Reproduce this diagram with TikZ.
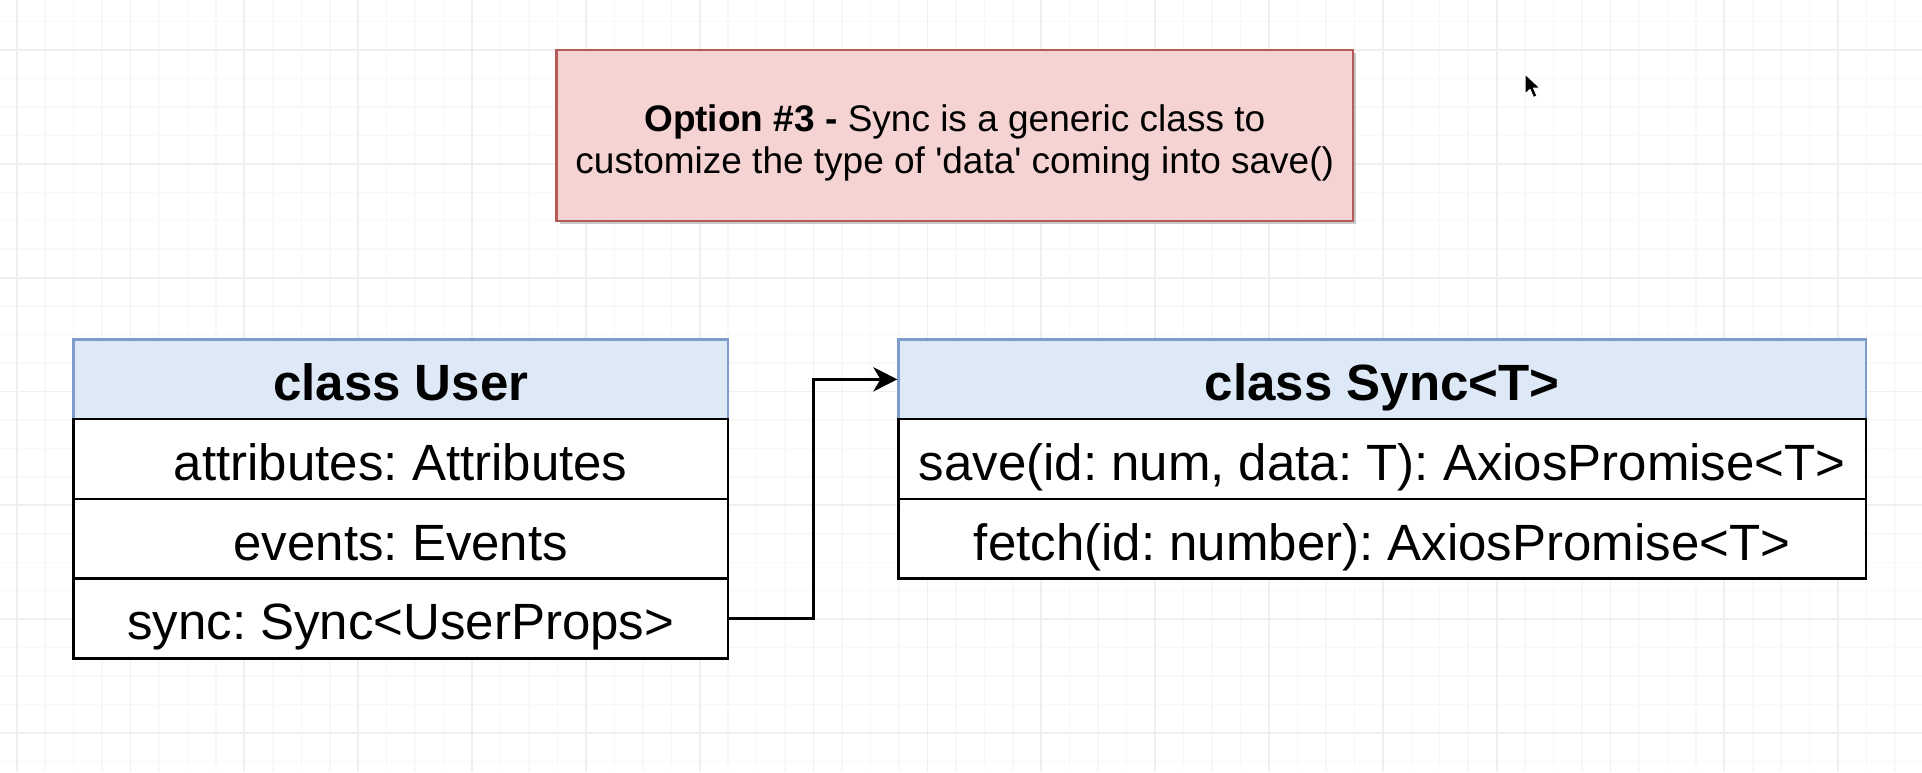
\documentclass[tikz,border=0pt]{standalone}
\usepackage{fontspec}
\setmainfont{Liberation Sans}
\frenchspacing
\usetikzlibrary{arrows.meta}
\definecolor{gridminor}{HTML}{F8F8F8}
\definecolor{gridmajor}{HTML}{EFEFEF}
\definecolor{notefill}{HTML}{F4D3D2}
\definecolor{notedraw}{HTML}{B45A58}
\definecolor{headfill}{HTML}{DEE9F8}
\definecolor{headdraw}{HTML}{7D9BCB}
\tikzset{
  minorline/.style={draw=gridminor, line width=1.5pt},
  majorline/.style={draw=gridmajor, line width=1.8pt},
  notebox/.style={rectangle, fill=notefill, draw=notedraw, line width=2.2pt, inner sep=0pt,
    minimum width=796.5pt, minimum height=171pt},
  notetext/.style={inner sep=0pt, align=center, font=\fontsize{37}{42}\selectfont},
  headbox/.style={rectangle, fill=headfill, draw=headdraw, line width=2.2pt, inner sep=0pt,
    minimum height=79.7pt, text height=43pt, text depth=0pt,
    font=\fontsize{51}{60}\selectfont\bfseries},
  rowbox/.style={rectangle, fill=white, draw=black, line width=2.4pt, inner sep=0pt,
    minimum height=79.7pt, text height=43pt, text depth=0pt,
    font=\fontsize{51}{60}\selectfont},
  conn/.style={draw=black, line width=3pt, -{Stealth[length=24pt, width=24pt, inset=7pt]}},
}
\begin{document}
\begin{tikzpicture}[x=1pt,y=-1pt]
\useasboundingbox (0,0) rectangle (1922,772);
\fill[white] (0,0) rectangle (1922,772);
% grid
\foreach \i in {0,...,67} {
  \pgfmathsetmacro\xx{16.7+\i*28.46}
  \draw[minorline] (\xx,0) -- (\xx,772);
}
\foreach \i in {0,...,27} {
  \pgfmathsetmacro\yy{21.5+\i*28.46}
  \draw[minorline] (0,\yy) -- (1922,\yy);
}
\foreach \i in {0,...,16} {
  \pgfmathsetmacro\xx{16.7+\i*113.84}
  \draw[majorline] (\xx,0) -- (\xx,772);
}
\foreach \i in {0,...,6} {
  \pgfmathsetmacro\yy{50+\i*113.84}
  \draw[majorline] (0,\yy) -- (1922,\yy);
}
% note
\fill[black!35, opacity=0.6] (559.5,53) rectangle (1356,224);
\node[notebox] (note) at (954.75,135.5) {};
\node[notetext] (notet) at (954.75,142.5) {\textbf{Option \#3 -} Sync is a generic class to\\customize the type of \textquotesingle data\textquotesingle\ coming into save()};
% class User
\node[headbox, minimum width=654.5pt] (uh) at (400.75,379.35) {class User};
\node[rowbox, minimum width=654.5pt] (ur1) at (400.75,459.05) {attributes: Attributes};
\node[rowbox, minimum width=654.5pt] (ur2) at (400.75,538.75) {events: Events};
\node[rowbox, minimum width=654.5pt] (ur3) at (400.75,618.45) {sync: Sync<UserProps>};
% class Sync
\node[headbox, minimum width=967.2pt] (sh) at (1382.1,379.35) {class Sync<T>};
\node[rowbox, minimum width=967.2pt] (sr1) at (1382.1,459.05) {save(id: num, data: T): AxiosPromise<T>};
\node[rowbox, minimum width=967.2pt] (sr2) at (1382.1,538.75) {fetch(id: number): AxiosPromise<T>};
% connector
\coordinate (bend) at (813,500);
\draw[conn] (ur3.east) -- (ur3.east -| bend) -- (bend |- sh.west) -- (sh.west);
% mouse pointer
\filldraw[fill=black, draw=white, line width=1pt, line join=round]
  (1525,74) -- (1525,94) -- (1530,89.5) -- (1533.5,97.5) -- (1537,96) -- (1533.5,88) -- (1540,88) -- cycle;
\end{tikzpicture}
\end{document}
